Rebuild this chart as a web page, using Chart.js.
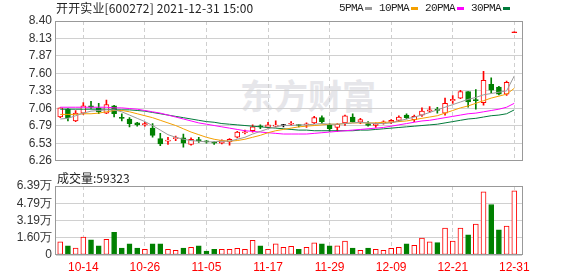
<!DOCTYPE html>
<html>
<head>
<meta charset="utf-8">
<script src="https://cdn.jsdelivr.net/npm/chart.js@4/dist/chart.umd.min.js"></script>
<style>
  body { margin: 0; background: #fff; width: 578px; height: 276px; overflow: hidden; position: relative; font-family: "Noto Sans CJK SC", sans-serif; }
  canvas { position: absolute; left: 0; }
  #priceChart { top: 0; }
  #volumeChart { top: 172px; }
  .txt { position: absolute; font-size: 12px; line-height: 14px; color: #222; white-space: nowrap; }
  .leg { position: absolute; top: 1px; font-family: "Liberation Mono", monospace; font-size: 11px; letter-spacing: -0.6px; line-height: 14px; color: #222; white-space: nowrap; }
  .mark { position: absolute; top: 7px; width: 7px; height: 3px; }
  .wm { position: absolute; white-space: nowrap; font-weight: bold; }
</style>
</head>
<body>
<div class="wm" style="left:240px;top:70px;font-size:34px;color:#e6e6ea;">东方财富</div>
<canvas id="priceChart" width="578" height="172"></canvas>
<canvas id="volumeChart" width="578" height="104"></canvas>
<div class="txt" style="left:56px;top:1px;letter-spacing:0.15px;">开开实业[600272] 2021-12-31 15:00</div>
<div id="legend"></div>
<div class="txt" id="volLabel" style="left:57px;top:171px;"></div>
<script>
// trading days shown on the chart
const dates = [
  "10-11", "10-12", "10-13", "10-14", "10-15", "10-18", "10-19", "10-20", "10-21", "10-22",
  "10-25", "10-26", "10-27", "10-28", "10-29", "11-01", "11-02", "11-03", "11-04", "11-05",
  "11-08", "11-09", "11-10", "11-11", "11-12", "11-15", "11-16", "11-17", "11-18", "11-19",
  "11-22", "11-23", "11-24", "11-25", "11-26", "11-29", "11-30", "12-01", "12-02", "12-03",
  "12-06", "12-07", "12-08", "12-09", "12-10", "12-13", "12-14", "12-15", "12-16", "12-17",
  "12-20", "12-21", "12-22", "12-23", "12-24", "12-27", "12-28", "12-29", "12-30", "12-31",
];

const labelDates = ["10-14", "10-26", "11-05", "11-17", "11-29", "12-09", "12-21", "12-31"];

const open = [
  6.93, 7.05, 6.87, 6.99, 7.10, 7.07, 6.99, 7.10, 6.92, 6.90,
  6.84, 6.81, 6.76, 6.60, 6.56, 6.60, 6.61, 6.51, 6.58, 6.56,
  6.54, 6.53, 6.55, 6.62, 6.69, 6.72, 6.79, 6.77, 6.79, 6.80,
  6.82, 6.81, 6.81, 6.84, 6.92, 6.81, 6.77, 6.84, 6.93, 6.85,
  6.83, 6.80, 6.84, 6.85, 6.88, 6.96, 6.89, 6.96, 7.02, 7.05,
  6.99, 7.18, 7.22, 7.32, 7.19, 7.15, 7.43, 7.39, 7.28, 8.22,
];
const high = [
  7.07, 7.06, 7.03, 7.15, 7.17, 7.14, 7.19, 7.11, 6.98, 6.92,
  6.85, 6.85, 6.83, 6.68, 6.62, 6.64, 6.67, 6.61, 6.62, 6.57,
  6.55, 6.58, 6.60, 6.71, 6.73, 6.81, 6.81, 6.85, 6.87, 6.82,
  6.86, 6.82, 6.84, 6.94, 6.95, 6.83, 6.83, 6.96, 6.98, 6.91,
  6.86, 6.84, 6.87, 6.89, 6.95, 6.98, 6.96, 7.07, 7.09, 7.08,
  7.22, 7.26, 7.34, 7.32, 7.35, 7.63, 7.53, 7.40, 7.48, 8.22,
];
const low = [
  6.92, 6.87, 6.86, 6.97, 7.06, 6.98, 6.98, 6.93, 6.87, 6.78,
  6.79, 6.79, 6.62, 6.49, 6.51, 6.57, 6.47, 6.50, 6.54, 6.53,
  6.51, 6.52, 6.50, 6.61, 6.67, 6.70, 6.75, 6.76, 6.78, 6.78,
  6.80, 6.78, 6.77, 6.83, 6.83, 6.71, 6.71, 6.80, 6.85, 6.83,
  6.79, 6.77, 6.82, 6.83, 6.86, 6.90, 6.86, 6.94, 7.00, 6.99,
  6.96, 7.14, 7.21, 7.08, 7.05, 7.11, 7.30, 7.27, 7.26, 8.22,
];
const close = [
  7.07, 6.92, 6.99, 7.10, 7.08, 7.01, 7.12, 6.98, 6.91, 6.83,
  6.81, 6.83, 6.65, 6.52, 6.57, 6.61, 6.53, 6.59, 6.57, 6.55,
  6.53, 6.57, 6.59, 6.70, 6.70, 6.78, 6.78, 6.81, 6.80, 6.80,
  6.83, 6.80, 6.82, 6.92, 6.86, 6.75, 6.82, 6.95, 6.86, 6.89,
  6.80, 6.83, 6.85, 6.88, 6.93, 6.92, 6.94, 7.02, 7.04, 7.03,
  7.14, 7.20, 7.32, 7.16, 7.18, 7.49, 7.34, 7.28, 7.46, 8.22,
];

// volume in shares (手), and whether the volume bar is drawn red
const volume = [
  12200, 8400, 6500, 16500, 14000, 8400, 14600, 20900, 6500, 10300,
  6500, 5300, 10300, 10300, 5300, 4400, 6500, 7200, 8400, 3700,
  5300, 5300, 5300, 6200, 5300, 13700, 8400, 5300, 10300, 7200,
  8100, 5300, 7200, 11200, 10300, 8400, 8400, 12800, 6500, 4400,
  6500, 5300, 4400, 6200, 7200, 10300, 9000, 15600, 12200, 11500,
  24900, 12800, 24900, 18700, 28700, 58600, 46800, 23400, 26800, 59323,
];
const volumeUp = [
  1, 0, 1, 1, 0, 0, 1, 0, 0, 0,
  0, 1, 0, 0, 1, 1, 0, 1, 0, 0,
  0, 1, 1, 1, 1, 1, 0, 1, 1, 1,
  1, 0, 1, 1, 0, 0, 1, 1, 0, 1,
  0, 1, 1, 1, 1, 0, 1, 1, 1, 0,
  1, 1, 1, 0, 1, 1, 0, 0, 1, 1,
];

// moving averages
const ma5 = [
  6.90, 6.91, 6.95, 6.99, 7.02, 7.03, 7.04, 7.04, 7.01, 6.96,
  6.91, 6.86, 6.80, 6.73, 6.66, 6.62, 6.59, 6.57, 6.56, 6.55,
  6.55, 6.56, 6.56, 6.59, 6.62, 6.67, 6.71, 6.75, 6.78, 6.80,
  6.80, 6.81, 6.81, 6.82, 6.83, 6.82, 6.82, 6.83, 6.84, 6.85,
  6.84, 6.83, 6.83, 6.84, 6.87, 6.90, 6.93, 6.96, 7.00, 7.04,
  7.08, 7.12, 7.16, 7.20, 7.23, 7.27, 7.29, 7.31, 7.33, 7.56,
];
const ma10 = [
  6.97, 6.97, 6.97, 6.98, 6.98, 6.99, 7.01, 7.03, 7.03, 7.01,
  6.98, 6.95, 6.92, 6.88, 6.84, 6.80, 6.75, 6.70, 6.66, 6.62,
  6.59, 6.57, 6.56, 6.57, 6.59, 6.62, 6.65, 6.69, 6.72, 6.74,
  6.76, 6.78, 6.79, 6.80, 6.81, 6.82, 6.82, 6.83, 6.84, 6.84,
  6.84, 6.84, 6.85, 6.85, 6.86, 6.87, 6.89, 6.91, 6.93, 6.95,
  6.99, 7.03, 7.07, 7.10, 7.14, 7.18, 7.22, 7.25, 7.28, 7.37,
];
const ma20 = [
  7.08, 7.08, 7.08, 7.08, 7.08, 7.08, 7.08, 7.07, 7.07, 7.06,
  7.05, 7.03, 7.01, 6.99, 6.96, 6.93, 6.90, 6.87, 6.84, 6.82,
  6.80, 6.78, 6.76, 6.74, 6.72, 6.71, 6.70, 6.69, 6.68, 6.67,
  6.67, 6.67, 6.67, 6.68, 6.69, 6.70, 6.71, 6.72, 6.73, 6.74,
  6.75, 6.76, 6.77, 6.79, 6.81, 6.83, 6.85, 6.87, 6.88, 6.90,
  6.92, 6.94, 6.96, 6.98, 6.99, 7.01, 7.03, 7.05, 7.08, 7.14,
];
const ma30 = [
  7.05, 7.05, 7.05, 7.05, 7.05, 7.05, 7.05, 7.04, 7.04, 7.04,
  7.03, 7.02, 7.00, 6.98, 6.96, 6.94, 6.92, 6.90, 6.88, 6.86,
  6.85, 6.83, 6.82, 6.81, 6.80, 6.79, 6.78, 6.77, 6.76, 6.75,
  6.74, 6.73, 6.73, 6.72, 6.72, 6.72, 6.72, 6.72, 6.72, 6.73,
  6.73, 6.74, 6.75, 6.76, 6.77, 6.78, 6.79, 6.80, 6.81, 6.82,
  6.84, 6.86, 6.88, 6.90, 6.91, 6.93, 6.95, 6.96, 6.98, 7.04,
];

const priceTicks = ["6.26", "6.53", "6.79", "7.06", "7.33", "7.60", "7.87", "8.13", "8.40"];
const volumeTicks = ["0", "1.60万", "3.19万", "4.79万", "6.39万"];

const maNames = ["5PMA", "10PMA", "20PMA", "30PMA"];
const maColors = ["#9a9a9a", "#f4a000", "#ff00ff", "#007a3a"];

const RED = "#ff0000";
const GREEN = "#008000";
const BLACK = "#000000";

Chart.defaults.font.family = "'Liberation Sans', Arial, sans-serif";
Chart.defaults.font.size = 12;
Chart.defaults.color = "#333";

const days = dates.map((d, i) => i + 1);
const labelDays = labelDates.map((d) => dates.indexOf(d) + 1);

// candle colour: by open/close, doji by previous close
function candleColor(i) {
  if (close[i] > open[i]) return RED;
  if (close[i] < open[i]) return GREEN;
  const prev = i > 0 ? close[i - 1] : open[i];
  if (close[i] > prev) return RED;
  if (close[i] < prev) return GREEN;
  return BLACK;
}
const colors = days.map((d, i) => candleColor(i));
const hollow = days.map((d, i) => close[i] > open[i]);

// grey frame round the plot area
const framePlugin = {
  id: "frame",
  afterDraw(chart) {
    const a = chart.chartArea;
    const ctx = chart.ctx;
    ctx.save();
    ctx.strokeStyle = "#999";
    ctx.lineWidth = 1;
    ctx.strokeRect(Math.round(a.left) - 0.5, Math.round(a.top) + 0.5,
      Math.round(a.right - a.left) + 1, Math.round(a.bottom - a.top) - 1);
    ctx.restore();
  },
};

function xScale(showTicks) {
  return {
    type: "linear",
    offset: false,
    min: 0.45,
    max: 61,
    afterBuildTicks: (s) => { s.ticks = labelDays.map((v) => ({ value: v })); },
    afterFit: (s) => { s.height = showTicks ? 21 : 7; },
    grid: { color: "#cfcfcf", drawTicks: false, offset: false },
    border: { display: false, dash: [4, 3] },
    ticks: {
      display: showTicks,
      autoSkip: false,
      maxRotation: 0,
      padding: 5,
      color: RED,
      callback: (v) => dates[v - 1],
    },
  };
}

const wickData = days.map((x, i) => ({ x, y: [low[i], high[i]] }));
const bodyData = days.map((x, i) => ({ x, y: [open[i], close[i]] }));

const maSets = [ma5, ma10, ma20, ma30].map((arr, k) => ({
  type: "line",
  label: maNames[k],
  data: days.map((x, i) => ({ x, y: arr[i] })),
  borderColor: maColors[k],
  borderWidth: 1,
  pointRadius: 0,
  tension: 0,
  order: 1,
}));

new Chart(document.getElementById("priceChart"), {
  type: "bar",
  data: {
    datasets: [
      {
        label: "wick",
        data: wickData,
        backgroundColor: colors,
        borderWidth: 0,
        barThickness: 1,
        minBarLength: 1,
        grouped: false,
        order: 3,
      },
      {
        label: "body",
        data: bodyData,
        backgroundColor: days.map((d, i) => (hollow[i] ? "#ffffff" : colors[i])),
        borderColor: colors,
        borderWidth: 1,
        borderSkipped: false,
        barThickness: 5,
        minBarLength: 1,
        grouped: false,
        order: 2,
      },
      ...maSets,
    ],
  },
  options: {
    responsive: false,
    animation: false,
    layout: { padding: { left: 0, right: 56, top: 21, bottom: 0 } },
    plugins: { legend: { display: false }, tooltip: { enabled: false } },
    scales: {
      x: xScale(false),
      y: {
        min: 6.26,
        max: 8.40,
        afterBuildTicks: (s) => {
          s.ticks = priceTicks.map((t, i) => ({ value: 6.26 + (i * (8.40 - 6.26)) / 8 }));
        },
        afterFit: (s) => { s.width = 56; },
        grid: { color: "#d0d0d0", drawTicks: false },
        border: { display: false },
        ticks: { padding: 4, autoSkip: false, callback: (v, i) => priceTicks[i] },
      },
    },
  },
  plugins: [framePlugin],
});

new Chart(document.getElementById("volumeChart"), {
  type: "bar",
  data: {
    datasets: [
      {
        label: "成交量",
        data: days.map((x, i) => ({ x, y: volume[i] })),
        backgroundColor: volumeUp.map((u) => (u ? "#ffffff" : GREEN)),
        borderColor: volumeUp.map((u) => (u ? RED : GREEN)),
        borderWidth: 1,
        borderSkipped: false,
        barThickness: 5,
        grouped: false,
      },
    ],
  },
  options: {
    responsive: false,
    animation: false,
    layout: { padding: { left: 0, right: 56, top: 14, bottom: 0 } },
    plugins: { legend: { display: false }, tooltip: { enabled: false } },
    scales: {
      x: xScale(true),
      y: {
        min: 0,
        max: 63900,
        afterBuildTicks: (s) => {
          s.ticks = volumeTicks.map((t, i) => ({ value: (i * 63900) / 4 }));
        },
        afterFit: (s) => { s.width = 56; },
        grid: { color: "#d0d0d0", drawTicks: false },
        border: { display: false },
        ticks: { padding: 4, autoSkip: false, callback: (v, i) => volumeTicks[i] },
      },
    },
  },
  plugins: [framePlugin],
});

// legend: label then a short colour mark, laid out left to right
const legend = document.getElementById("legend");
let legendX = 339;
maNames.forEach((n, k) => {
  const label = document.createElement("div");
  label.className = "leg";
  label.style.left = legendX + "px";
  label.textContent = n;
  legend.appendChild(label);
  const markX = legendX + n.length * 6 + 2;
  const mark = document.createElement("div");
  mark.className = "mark";
  mark.style.left = markX + "px";
  mark.style.background = maColors[k];
  legend.appendChild(mark);
  legendX = markX + 14;
});

document.getElementById("volLabel").textContent = "成交量:" + volume[volume.length - 1];
</script>
</body>
</html>
